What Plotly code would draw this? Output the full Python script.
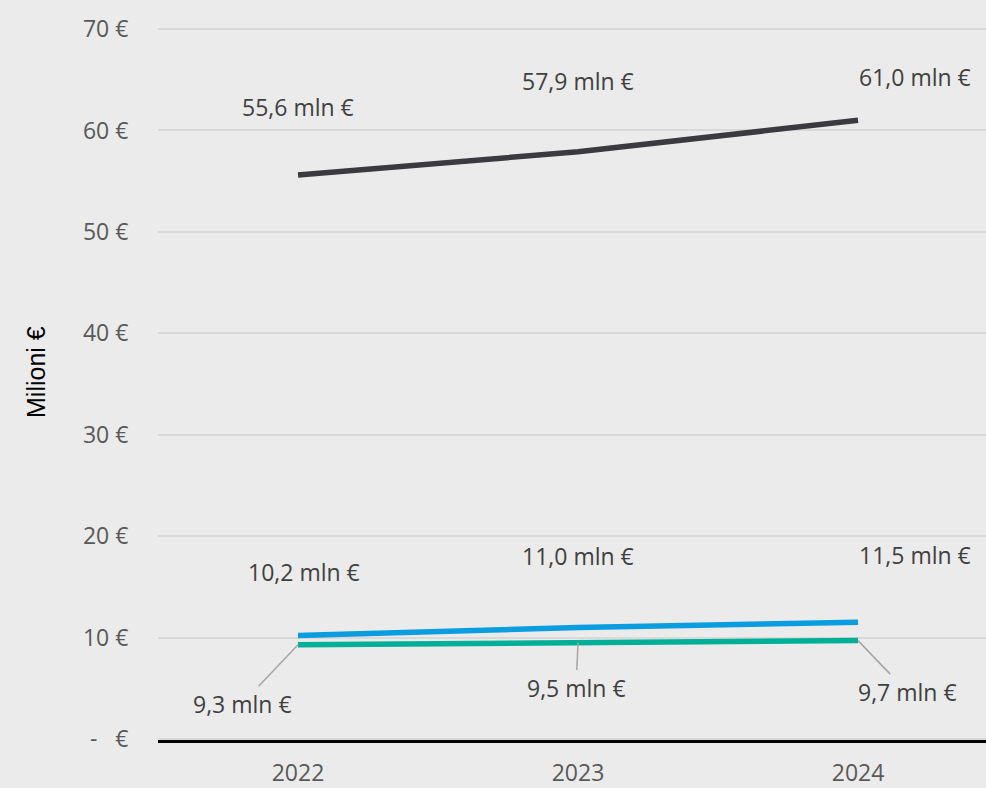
import plotly.graph_objects as go

years = ["2022", "2023", "2024"]
totale = [55.6, 57.9, 61.0]
serie_blu = [10.2, 11.0, 11.5]
serie_verde = [9.3, 9.5, 9.7]
y_ticks = [0, 10, 20, 30, 40, 50, 60, 70]
y_tick_text = ["-   €", "10 €", "20 €", "30 €", "40 €", "50 €", "60 €", "70 €"]

def fmt(v):
    return f"{v:.1f}".replace(".", ",") + " mln €"

BG = "#ebebeb"
FONT = "Open Sans"
LABEL_C = "#404040"
W, H = 986, 788
ML, MR, MT, MB = 158, 0, 26, 48

fig = go.Figure()
series = [
    (totale, "#3b3b3f"),
    (serie_blu, "#0a9de0"),
    (serie_verde, "#00af98"),
]
for vals, col in series:
    fig.add_trace(go.Scatter(x=years, y=vals, mode="lines",
                             line=dict(color=col, width=5.5),
                             showlegend=False, hoverinfo="skip"))

ann = []
# labels without leader lines (offsets in pixels); x given as category index
offs_tot = [(0, 68), (0, 71), (57, 43)]
offs_blu = [(6, 64), (0, 71), (57, 67)]
for vals, offs in [(totale, offs_tot), (serie_blu, offs_blu)]:
    for i, (v, (dx, dy)) in enumerate(zip(vals, offs)):
        ann.append(dict(x=i, y=v, xref="x", yref="y", text=fmt(v),
                        showarrow=False, xshift=dx, yshift=dy,
                        font=dict(family=FONT, size=23, color=LABEL_C)))
# labels with leader lines
offs_ver = [(-56, 59), (-2, 45), (49, 51)]
for i, (v, (dx, dy)) in enumerate(zip(serie_verde, offs_ver)):
    ann.append(dict(x=i, y=v, xref="x", yref="y", text=fmt(v),
                    showarrow=True, arrowhead=0, arrowwidth=1.5,
                    arrowcolor="#a6a6a6", ax=dx, ay=dy, standoff=0,
                    font=dict(family=FONT, size=23, color=LABEL_C)))
pw, ph = W - ML - MR, H - MT - MB
ann.append(dict(x=(36 - ML) / pw, y=(H - MB - 372) / ph, xref="paper", yref="paper",
                text="Milioni €", showarrow=False, textangle=-90,
                xanchor="center", yanchor="middle",
                font=dict(family="Liberation Sans", size=25, color="#000000")))

fig.update_layout(
    width=W, height=H,
    margin=dict(l=ML, r=MR, t=MT, b=MB, autoexpand=False),
    paper_bgcolor=BG, plot_bgcolor=BG,
    annotations=ann,
    xaxis=dict(type="category", range=[-0.5, 2.457], showgrid=False,
               showline=True, linecolor="#000000", linewidth=3,
               automargin=False,
               ticks="outside", ticklen=10, tickcolor="rgba(0,0,0,0)",
               tickfont=dict(family=FONT, size=23, color="#595959")),
    yaxis=dict(range=[-0.1, 70.3], tickvals=y_ticks, ticktext=y_tick_text,
               showgrid=True, gridcolor="#d9d9d9", gridwidth=1.5,
               zeroline=False, showline=False, automargin=False,
               ticks="outside", ticklen=24, tickcolor="rgba(0,0,0,0)",
               tickfont=dict(family=FONT, size=23, color="#595959")),
)

fig.write_html("out.html", config={"displayModeBar": False},
               post_script="document.body.style.margin='0';document.body.style.overflow='hidden';")
